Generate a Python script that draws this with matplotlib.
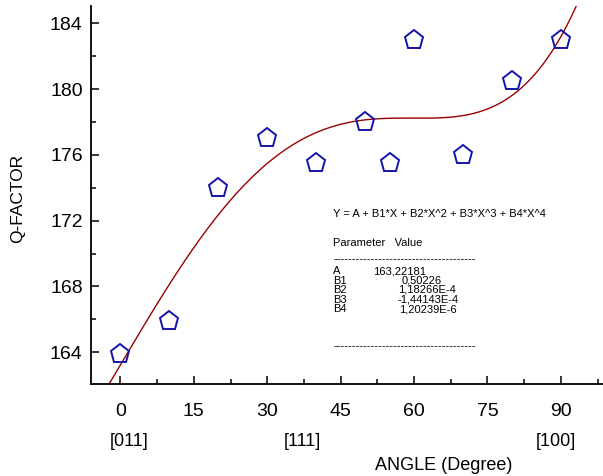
import numpy as np
import matplotlib
matplotlib.use('Agg')
import matplotlib.pyplot as plt
from matplotlib.ticker import MultipleLocator
import matplotlib.transforms as mtransforms

plt.rcParams['font.family'] = ['Liberation Sans', 'DejaVu Sans']

# measured points
angle = [0, 10, 20, 30, 40, 50, 55, 60, 70, 80, 90]
qfactor = [163.9, 165.9, 174.0, 177.0, 175.5, 178.0, 175.5, 183.0, 176.0, 180.5, 183.0]

# fit parameters as printed on the chart
param_names = ['A', 'B1', 'B2', 'B3', 'B4']
param_values = [163.22181, 0.50226, 1.18266E-4, -1.44143E-4, 1.20239E-6]
param_labels = ['163,22181', '0,50226', '1,18266E-4', '-1,44143E-4', '1,20239E-6']

# crystal directions under the axis
dir_pos = [1.8, 37.1, 89.0]
dir_labels = ['[011]', '[111]', '[100]']

W, H = 603, 476
fig = plt.figure(figsize=(W / 100, H / 100), dpi=100)
ax = fig.add_axes([91 / W, 1 - 383.5 / H, 1 - 91 / W, (383.5 - 6) / H])

# fitted polynomial
xf = np.linspace(-6, 98.6, 400)
yf = sum(c * xf ** i for i, c in enumerate(param_values))
ax.plot(xf, yf, color='#990000', lw=1.0, zorder=2)

ax.plot(angle, qfactor, linestyle='none', marker='p', markersize=14,
        markerfacecolor='none', markeredgecolor='#1414a8', markeredgewidth=1.4,
        zorder=3)

ax.set_xlim(-6, 98.6)
ax.set_ylim(162.1, 185.05)
ax.xaxis.set_major_locator(MultipleLocator(15))
ax.xaxis.set_minor_locator(MultipleLocator(7.5))
ax.yaxis.set_major_locator(MultipleLocator(4))
ax.yaxis.set_minor_locator(MultipleLocator(2))
ax.tick_params(which='both', direction='in', width=1.1, labelsize=14)
ax.tick_params(which='major', length=6)
ax.tick_params(which='minor', length=3.5)
ax.tick_params(axis='x', pad=14)
ax.tick_params(axis='y', pad=6)
for s in ['top', 'right']:
    ax.spines[s].set_visible(False)
for s in ['left', 'bottom']:
    ax.spines[s].set_linewidth(1.3)

trans = mtransforms.blended_transform_factory(ax.transData, fig.transFigure)
for xp, lab in zip(dir_pos, dir_labels):
    ax.text(xp, 1 - 442 / H, lab, transform=trans, ha='center', va='center',
            fontsize=13)
ax.text(66.1, 1 - 465 / H, 'ANGLE (Degree)', transform=trans, ha='center',
        va='center', fontsize=13)

fig.text(18 / W, 1 - 198 / H, 'Q-FACTOR', rotation=90, ha='center', va='center',
         fontsize=12.5)

# parameter box
fs = 8
fig.text(333 / W, 1 - 214 / H, 'Y = A + B1*X + B2*X^2 + B3*X^3 + B4*X^4',
         fontsize=fs, va='center')
fig.text(333 / W, 1 - 243 / H, 'Parameter   Value', fontsize=fs, va='center')
fig.text(333 / W, 1 - 259 / H, '-' * 38, fontsize=fs, va='center')
row_y = [271, 280.5, 290, 300, 309]
val_x = [373, 402, 398, 397, 399]
for name, lab, yy, xx in zip(param_names, param_labels, row_y, val_x):
    fig.text(333 / W, 1 - yy / H, name, fontsize=fs, va='center')
    fig.text(xx / W, 1 - yy / H, lab, fontsize=fs, va='center')
fig.text(333 / W, 1 - 346 / H, '-' * 38, fontsize=fs, va='center')

fig.savefig('out.png', dpi=100)
